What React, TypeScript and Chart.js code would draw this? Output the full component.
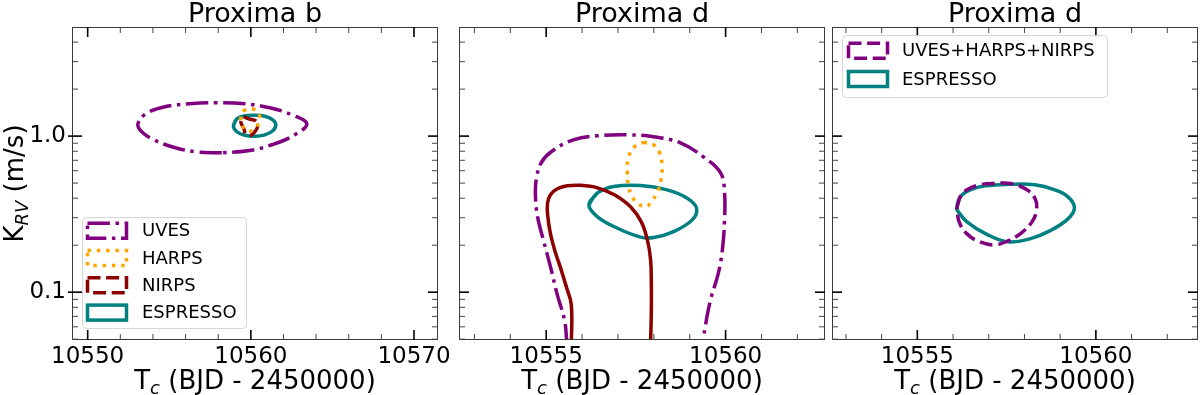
import { useEffect, useRef } from "react";
import { Chart, registerables } from "chart.js";
Chart.register(...registerables);

const FONT = '"DejaVu Sans", "Liberation Sans", sans-serif';

// ---------------- axis ranges / ticks ----------------
const xRangeB = [10549.04, 10571.47];
const xRangeD = [10552.57, 10562.77];
const xRangeD2 = [10552.61, 10562.86];
const kRange = [0.0494, 5.0];
const xMajorB = [10550, 10560, 10570];
const xMajorD = [10555, 10560];
const kMajor = [0.1, 1.0];
const kMajorLabels = ["0.1", "1.0"];
const kMinor = [0.05, 0.06, 0.07, 0.08, 0.09, 0.2, 0.3, 0.4, 0.5, 0.6, 0.7, 0.8, 0.9, 2, 3, 4, 5];

const panelTitles = ["Proxima b", "Proxima d", "Proxima d"];

const COL_UVES = "#800080";
const COL_HARPS = "#FFA500";
const COL_NIRPS = "#8B0000";
const COL_ESP = "#008080";

// ---------------- Proxima b contours ----------------
const bUvesTc = [10558.22, 10556.63, 10555.16, 10553.94, 10553.26, 10553.08, 10553.57, 10554.73, 10556.26, 10557.92, 10559.63, 10561.16, 10562.51, 10563.43, 10562.69, 10561.29, 10559.82, 10558.22];
const bUvesK = [0.782, 0.793, 0.854, 0.961, 1.081, 1.199, 1.390, 1.541, 1.611, 1.635, 1.611, 1.519, 1.369, 1.199, 1.019, 0.880, 0.805, 0.782];

const bHarpsTc = [10559.51, 10560.06, 10560.49, 10560.49, 10560.18, 10559.76, 10559.45, 10559.39, 10559.51];
const bHarpsK = [1.453, 1.496, 1.390, 1.235, 1.098, 1.081, 1.181, 1.330, 1.453];

const bNirpsTc = [10559.57, 10559.88, 10560.31, 10560.43, 10560.25, 10559.94, 10559.69, 10559.57, 10559.39, 10559.57];
const bNirpsK = [1.330, 1.291, 1.253, 1.164, 1.066, 1.004, 1.034, 1.114, 1.235, 1.330];

const bEspTc = [10558.93, 10559.14, 10559.63, 10560.25, 10560.86, 10561.35, 10561.53, 10561.35, 10560.86, 10560.25, 10559.63, 10559.14, 10558.93];
const bEspK = [1.164, 1.291, 1.349, 1.359, 1.339, 1.272, 1.181, 1.081, 1.019, 0.997, 1.012, 1.066, 1.164];

// ---------------- Proxima d contours (per instrument) ----------------
const dUvesTc = [10555.58, 10555.57, 10555.51, 10555.31, 10555.12, 10554.92, 10554.76, 10554.70, 10554.73, 10554.86, 10555.14, 10555.76, 10556.43, 10557.26, 10557.99, 10558.74, 10559.38, 10559.86, 10559.97, 10559.97, 10559.91, 10559.80, 10559.58, 10559.44, 10559.38, 10559.36];
const dUvesK = [0.045, 0.0494, 0.0665, 0.0961, 0.1453, 0.2164, 0.3039, 0.4204, 0.5404, 0.6742, 0.7933, 0.9469, 1.004, 1.019, 0.990, 0.906, 0.7367, 0.5816, 0.4331, 0.2907, 0.1867, 0.1330, 0.0892, 0.0617, 0.0494, 0.045];

const dHarpsTc = [10557.71, 10557.99, 10558.16, 10558.23, 10558.20, 10558.10, 10557.91, 10557.77, 10557.57, 10557.40, 10557.29, 10557.26, 10557.29, 10557.46, 10557.71];
const dHarpsK = [0.9126, 0.880, 0.782, 0.6357, 0.5248, 0.4395, 0.3736, 0.3522, 0.3681, 0.4082, 0.4801, 0.5903, 0.7261, 0.854, 0.9126];

const dNirpsTc = [10555.70, 10555.70, 10555.57, 10555.40, 10555.26, 10555.12, 10555.04, 10555.04, 10555.12, 10555.31, 10555.59, 10555.96, 10556.43, 10556.90, 10557.35, 10557.65, 10557.82, 10557.91, 10557.93, 10557.93, 10557.91, 10557.89];
const dNirpsK = [0.045, 0.0829, 0.1066, 0.1432, 0.1786, 0.2364, 0.3130, 0.3736, 0.4204, 0.4595, 0.4801, 0.4837, 0.4661, 0.4204, 0.3522, 0.2822, 0.2164, 0.1611, 0.1114, 0.0770, 0.0494, 0.045];

const dEspTc = [10556.19, 10556.42, 10556.88, 10557.63, 10558.37, 10558.93, 10559.19, 10559.07, 10558.55, 10558.00, 10557.63, 10556.98, 10556.42, 10556.19];
const dEspK = [0.3627, 0.4311, 0.4752, 0.4823, 0.4526, 0.4004, 0.3455, 0.2907, 0.2446, 0.2239, 0.2252, 0.2572, 0.3052, 0.3627];

// ---------------- Proxima d contours (combined) ----------------
const cCombTc = [10556.11, 10556.20, 10556.39, 10556.75, 10557.17, 10557.65, 10558.07, 10558.30, 10558.34, 10558.21, 10557.88, 10557.54, 10557.17, 10556.75, 10556.39, 10556.17, 10556.11];
const cCombK = [0.3470, 0.4082, 0.4526, 0.4873, 0.4982, 0.4946, 0.4526, 0.3963, 0.3369, 0.2822, 0.2364, 0.2132, 0.2010, 0.2101, 0.2364, 0.2822, 0.3470];

const cEspTc = [10556.10, 10556.20, 10556.48, 10556.90, 10557.59, 10558.29, 10558.85, 10559.22, 10559.40, 10559.22, 10558.71, 10558.15, 10557.54, 10556.92, 10556.39, 10556.13, 10556.10];
const cEspK = [0.3470, 0.4082, 0.4526, 0.4801, 0.4909, 0.4873, 0.4526, 0.4082, 0.3470, 0.2950, 0.2471, 0.2196, 0.2101, 0.2364, 0.2822, 0.3320, 0.3470];

const LW = 3.5;
const DASHDOT = [22.4, 5.6, 3.5, 5.6];
const DASHED = [13, 5.6];
const DOTTED = [3.5, 5.8];

type Series = { label: string; tc: number[]; k: number[]; color: string; dash: number[]; wrap?: boolean };

function toPoints(s: Series) {
  const pts = s.tc.map((t, i) => ({ x: t, y: s.k[i] }));
  if (s.wrap && pts.length > 2) pts.push({ ...pts[1] });
  return pts;
}

function fontStr(size: number, italic = false) {
  return `${italic ? "italic " : ""}${size}px ${FONT}`;
}

function drawMixed(ctx: CanvasRenderingContext2D, parts: { t: string; size: number; italic?: boolean; dy?: number }[], cx: number, base: number) {
  const widths = parts.map((p) => {
    ctx.font = fontStr(p.size, p.italic);
    return ctx.measureText(p.t).width;
  });
  const total = widths.reduce((a, b) => a + b, 0);
  let x = cx - total / 2;
  parts.forEach((p, i) => {
    ctx.font = fontStr(p.size, p.italic);
    ctx.fillText(p.t, x, base + (p.dy || 0));
    x += widths[i];
  });
}

const decorPlugin = {
  id: "decor",
  afterDatasetsDraw(chart: any, _args: any, opts: any) {
    const { ctx, chartArea: a, scales } = chart;
    const xs = scales.x;
    const ys = scales.y;
    ctx.save();
    ctx.setLineDash([]);
    ctx.strokeStyle = "#3a3a3a";
    ctx.lineWidth = 1;
    ctx.strokeRect(a.left + 0.5, a.top + 0.5, a.right - a.left - 1, a.bottom - a.top - 1);

    const line = (x1: number, y1: number, x2: number, y2: number, w: number, c: string) => {
      ctx.strokeStyle = c;
      ctx.lineWidth = w;
      ctx.beginPath();
      ctx.moveTo(x1, y1);
      ctx.lineTo(x2, y2);
      ctx.stroke();
    };
    const MAJ = 10, MIN = 6;
    const xmin = xs.min, xmax = xs.max;
    for (let v = Math.ceil(xmin / opts.xMinorStep) * opts.xMinorStep; v < xmax; v += opts.xMinorStep) {
      const isMajor = opts.xMajor.some((m: number) => Math.abs(m - v) < 1e-6);
      const px = xs.getPixelForValue(v);
      const len = isMajor ? MAJ : MIN;
      const w = isMajor ? 1.6 : 1;
      const c = isMajor ? "#000" : "#444";
      line(px, a.bottom, px, a.bottom - len, w, c);
      line(px, a.top, px, a.top + len, w, c);
    }
    const yTicks = [...kMajor.map((v) => ({ v, major: true })), ...kMinor.map((v) => ({ v, major: false }))];
    yTicks.forEach(({ v, major }) => {
      if (v <= ys.min * 1.001 || v >= ys.max * 0.999) return;
      const py = ys.getPixelForValue(v);
      const len = major ? MAJ : MIN;
      const w = major ? 1.6 : 1;
      const c = major ? "#000" : "#444";
      const out = major && opts.outLeft ? 4 : 0;
      line(a.left - out, py, a.left + len, py, w, c);
      line(a.right, py, a.right - len, py, w, c);
    });

    ctx.fillStyle = "#000";
    ctx.textAlign = "left";
    ctx.textBaseline = "alphabetic";
    const cx = (a.left + a.right) / 2;
    drawMixed(ctx, [{ t: opts.title, size: 27 }], cx, 22);
    drawMixed(ctx, [
      { t: "T", size: 26 },
      { t: "c", size: 18, italic: true, dy: 5 },
      { t: " (BJD - 2450000)", size: 26 },
    ], cx, 389);
    if (opts.yTitle) {
      ctx.save();
      ctx.translate(23, (a.top + a.bottom) / 2);
      ctx.rotate(-Math.PI / 2);
      drawMixed(ctx, [
        { t: "K", size: 26 },
        { t: "RV", size: 18, italic: true, dy: 5 },
        { t: " (m/s)", size: 26 },
      ], 0, 0);
      ctx.restore();
    }
    const lg = opts.legend;
    if (lg) {
      ctx.fillStyle = "rgba(255,255,255,0.8)";
      ctx.strokeStyle = "#d6d6d6";
      ctx.lineWidth = 1;
      ctx.beginPath();
      ctx.roundRect(lg.x + 0.5, lg.y + 0.5, lg.w, lg.h, 4);
      ctx.fill();
      ctx.stroke();
      chart.data.datasets.forEach((ds: any, i: number) => {
        const cy = lg.first + i * lg.step;
        ctx.strokeStyle = ds.borderColor;
        ctx.lineWidth = ds.borderWidth;
        ctx.setLineDash(ds.borderDash || []);
        ctx.lineCap = "butt";
        ctx.strokeRect(lg.patchX, cy - lg.patchH / 2, lg.patchW, lg.patchH);
        ctx.setLineDash([]);
        ctx.fillStyle = "#000";
        ctx.font = fontStr(18);
        ctx.textBaseline = "middle";
        ctx.fillText(ds.label, lg.textX, cy + 1);
      });
    }
    ctx.restore();
  },
};

type PanelCfg = {
  title: string;
  series: Series[];
  xRange: number[];
  xMajor: number[];
  xMinorStep: number;
  padLeft: number;
  padRight: number;
  yWidth: number;
  showY: boolean;
  outLeft: boolean;
  legend: any;
};

function buildConfig(p: PanelCfg): any {
  return {
    type: "scatter",
    data: {
      datasets: p.series.map((s) => ({
        label: s.label,
        data: toPoints(s),
        showLine: true,
        borderColor: s.color,
        backgroundColor: "transparent",
        borderWidth: LW,
        borderDash: s.dash,
        borderCapStyle: "butt",
        borderJoinStyle: "round",
        pointRadius: 0,
        pointHoverRadius: 0,
        tension: 0.4,
        fill: false,
        clip: 0,
      })),
    },
    options: {
      responsive: false,
      animation: false,
      events: [],
      layout: { padding: { left: p.padLeft, right: p.padRight, top: 27, bottom: 0 } },
      plugins: {
        legend: { display: false },
        tooltip: { enabled: false },
        title: { display: false },
        decor: {
          title: p.title,
          xMajor: p.xMajor,
          xMinorStep: p.xMinorStep,
          yTitle: p.showY,
          outLeft: p.outLeft,
          legend: p.legend,
        },
      },
      scales: {
        x: {
          type: "linear",
          min: p.xRange[0],
          max: p.xRange[1],
          afterBuildTicks: (s: any) => {
            s.ticks = p.xMajor.map((v) => ({ value: v }));
          },
          afterFit: (s: any) => {
            s.height = 55;
            s.paddingLeft = 0;
            s.paddingRight = 0;
          },
          grid: { display: false, drawTicks: false },
          border: { display: false },
          ticks: {
            color: "#000",
            font: { family: FONT, size: 23 },
            padding: 3,
            maxRotation: 0,
            autoSkip: false,
            callback: (v: any) => String(v),
          },
        },
        y: {
          type: "logarithmic",
          min: kRange[0],
          max: kRange[1],
          afterBuildTicks: (s: any) => {
            s.ticks = kMajor.map((v) => ({ value: v }));
          },
          afterFit: (s: any) => {
            s.width = p.yWidth;
            s.paddingTop = 0;
            s.paddingBottom = 0;
          },
          grid: { display: false, drawTicks: false },
          border: { display: false },
          ticks: {
            display: p.showY,
            color: "#000",
            font: { family: FONT, size: 23 },
            padding: 6,
            autoSkip: false,
            callback: (_v: any, i: number) => kMajorLabels[i],
          },
        },
      },
    },
    plugins: [decorPlugin],
  };
}

const panels: PanelCfg[] = [
  {
    title: panelTitles[0],
    series: [
      { label: "UVES", tc: bUvesTc, k: bUvesK, color: COL_UVES, dash: DASHDOT },
      { label: "HARPS", tc: bHarpsTc, k: bHarpsK, color: COL_HARPS, dash: DOTTED },
      { label: "NIRPS", tc: bNirpsTc, k: bNirpsK, color: COL_NIRPS, dash: DASHED },
      { label: "ESPRESSO", tc: bEspTc, k: bEspK, color: COL_ESP, dash: [], wrap: true },
    ],
    xRange: xRangeB,
    xMajor: xMajorB,
    xMinorStep: 2,
    padLeft: 0,
    padRight: 1200 - 438,
    yWidth: 72,
    showY: true,
    outLeft: true,
    legend: { x: 82, y: 217, w: 164, h: 111, first: 230.7, step: 27.3, patchX: 87.5, patchW: 39, patchH: 15, textX: 142 },
  },
  {
    title: panelTitles[1],
    series: [
      { label: "UVES", tc: dUvesTc, k: dUvesK, color: COL_UVES, dash: DASHDOT },
      { label: "HARPS", tc: dHarpsTc, k: dHarpsK, color: COL_HARPS, dash: DOTTED },
      { label: "NIRPS", tc: dNirpsTc, k: dNirpsK, color: COL_NIRPS, dash: [] },
      { label: "ESPRESSO", tc: dEspTc, k: dEspK, color: COL_ESP, dash: [], wrap: true },
    ],
    xRange: xRangeD,
    xMajor: xMajorD,
    xMinorStep: 1,
    padLeft: 459,
    padRight: 1200 - 825,
    yWidth: 0,
    showY: false,
    outLeft: false,
    legend: null,
  },
  {
    title: panelTitles[2],
    series: [
      { label: "UVES+HARPS+NIRPS", tc: cCombTc, k: cCombK, color: COL_UVES, dash: DASHED },
      { label: "ESPRESSO", tc: cEspTc, k: cEspK, color: COL_ESP, dash: [], wrap: true },
    ],
    xRange: xRangeD2,
    xMajor: xMajorD,
    xMinorStep: 1,
    padLeft: 832,
    padRight: 1200 - 1198,
    yWidth: 0,
    showY: false,
    outLeft: false,
    legend: { x: 842, y: 35, w: 265, h: 62, first: 50.7, step: 28.3, patchX: 848.5, patchW: 39, patchH: 15, textX: 902 },
  },
];

export default function App() {
  const r0 = useRef<HTMLCanvasElement>(null);
  const r1 = useRef<HTMLCanvasElement>(null);
  const r2 = useRef<HTMLCanvasElement>(null);
  useEffect(() => {
    const refs = [r0, r1, r2];
    const charts = refs.map((r, i) => new Chart(r.current as HTMLCanvasElement, buildConfig(panels[i])));
    return () => charts.forEach((c) => c.destroy());
  }, []);
  const cs: any = { position: "absolute", left: 0, top: 0, width: 1200, height: 395 };
  return (
    <div style={{ position: "absolute", left: 0, top: 0, width: 1200, height: 395, background: "#fff" }}>
      <canvas ref={r0} width={1200} height={395} style={cs} />
      <canvas ref={r1} width={1200} height={395} style={cs} />
      <canvas ref={r2} width={1200} height={395} style={cs} />
    </div>
  );
}
